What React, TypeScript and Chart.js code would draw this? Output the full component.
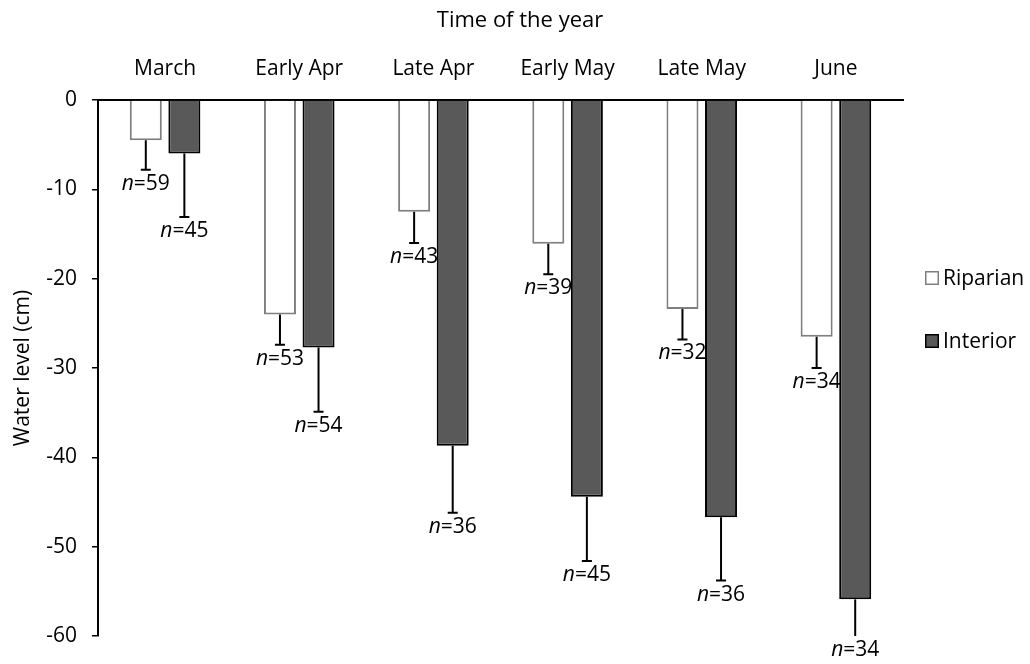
import React, { useEffect, useRef } from "react";
import { Chart, registerables } from "chart.js";

Chart.register(...registerables);

const categories = ["March", "Early Apr", "Late Apr", "Early May", "Late May", "June"];
const riparianMeans = [-4.5, -24.0, -12.5, -16.1, -23.4, -26.5];
const riparianErrorEnds = [-7.8, -27.4, -16.0, -19.5, -26.8, -30.0];
const riparianN = [59, 53, 43, 39, 32, 34];
const interiorMeans = [-6.0, -27.7, -38.7, -44.4, -46.7, -55.9];
const interiorErrorEnds = [-13.1, -34.9, -46.2, -51.6, -53.8, -60.3];
const interiorN = [45, 54, 36, 45, 36, 34];
const seriesNames = ["Riparian", "Interior"];
const yMin = -60;
const yMax = 0;
const yStep = 10;
const xTitle = "Time of the year";
const yTitle = "Water level (cm)";

const errorEnds = [riparianErrorEnds, interiorErrorEnds];
const sampleSizes = [riparianN, interiorN];
const fills = ["#ffffff", "#595959"];
const borders = ["#7f7f7f", "#000000"];
const FONT = "'Open Sans', sans-serif";
const FS = 21;

const errorBarPlugin = {
  id: "errorBars",
  afterDatasetsDraw(chart: any) {
    const ctx = chart.ctx;
    const area = chart.chartArea;
    const yScale = chart.scales.y;
    ctx.save();
    chart.data.datasets.forEach((_ds: any, di: number) => {
      const meta = chart.getDatasetMeta(di);
      meta.data.forEach((el: any, j: number) => {
        const x = el.x;
        const errY = yScale.getPixelForValue(errorEnds[di][j]);
        const clipped = errY > area.bottom;
        const yEnd = Math.min(errY, area.bottom);
        ctx.strokeStyle = "#000";
        ctx.lineWidth = 2;
        ctx.beginPath();
        ctx.moveTo(x, el.y);
        ctx.lineTo(x, yEnd);
        if (!clipped) {
          ctx.moveTo(x - 5, yEnd);
          ctx.lineTo(x + 5, yEnd);
        }
        ctx.stroke();
        const nText = "n";
        const rest = "=" + sampleSizes[di][j];
        ctx.font = `italic ${FS}px ${FONT}`;
        const w1 = ctx.measureText(nText).width;
        ctx.font = `${FS}px ${FONT}`;
        const w2 = ctx.measureText(rest).width;
        const start = x - (w1 + w2) / 2;
        const base = yEnd + 20;
        ctx.fillStyle = "#000";
        ctx.textBaseline = "alphabetic";
        ctx.textAlign = "left";
        ctx.font = `italic ${FS}px ${FONT}`;
        ctx.fillText(nText, start, base);
        ctx.font = `${FS}px ${FONT}`;
        ctx.fillText(rest, start + w1, base);
      });
    });
    ctx.restore();
  },
  afterDraw(chart: any) {
    const ctx = chart.ctx;
    ctx.save();
    ctx.fillStyle = "#000";
    ctx.font = `22px ${FONT}`;
    ctx.textAlign = "center";
    ctx.textBaseline = "alphabetic";
    ctx.fillText(xTitle, 520, 27);
    const legendY = [271, 334];
    ctx.font = `${FS}px ${FONT}`;
    seriesNames.forEach((name, i) => {
      const by = legendY[i];
      ctx.fillStyle = fills[i];
      ctx.fillRect(925, by, 14, 14);
      ctx.strokeStyle = borders[i];
      ctx.lineWidth = 1.5;
      ctx.strokeRect(925.75, by + 0.75, 12.5, 12.5);
      ctx.fillStyle = "#000";
      ctx.textAlign = "left";
      ctx.fillText(name, 943, by + 14);
    });
    ctx.restore();
  },
};

export default function App() {
  const ref = useRef<HTMLCanvasElement | null>(null);
  useEffect(() => {
    if (!ref.current) return;
    const chart = new Chart(ref.current, {
      type: "bar",
      data: {
        labels: categories,
        datasets: [
          {
            label: seriesNames[0],
            data: riparianMeans,
            backgroundColor: fills[0],
            borderColor: borders[0],
            borderWidth: 2,
            categoryPercentage: 0.575,
            barPercentage: 0.83,
          },
          {
            label: seriesNames[1],
            data: interiorMeans,
            backgroundColor: fills[1],
            borderColor: borders[1],
            borderWidth: 2,
            categoryPercentage: 0.575,
            barPercentage: 0.83,
          },
        ],
      },
      options: {
        responsive: false,
        animation: false,
        layout: { padding: { left: 0, top: 0, right: 127, bottom: 28 } },
        plugins: { legend: { display: false }, tooltip: { enabled: false }, title: { display: false } },
        scales: {
          x: {
            position: "top",
            z: 1,
            grid: { display: false },
            border: { display: true, color: "#000", width: 2 },
            ticks: { color: "#000", font: { family: FONT, size: FS }, padding: 10, maxRotation: 0 },
            afterFit(scale: any) {
              scale.height = 100;
            },
          },
          y: {
            min: yMin,
            max: yMax,
            grid: { display: true, drawOnChartArea: false, drawTicks: true, tickLength: 6, color: "#000", lineWidth: 1.5 },
            border: { display: true, color: "#000", width: 2 },
            ticks: { stepSize: yStep, color: "#000", font: { family: FONT, size: FS }, padding: 15 },
            title: { display: true, text: yTitle, color: "#000", font: { family: FONT, size: FS }, padding: { top: 10, bottom: 0 } },
            afterFit(scale: any) {
              scale.width = 98;
            },
          },
        },
      },
      plugins: [errorBarPlugin],
    });
    return () => chart.destroy();
  }, []);
  return (
    <div style={{ position: "absolute", left: 0, top: 0, width: 1030, height: 664, background: "#fff" }}>
      <canvas ref={ref} width={1030} height={664} />
    </div>
  );
}
